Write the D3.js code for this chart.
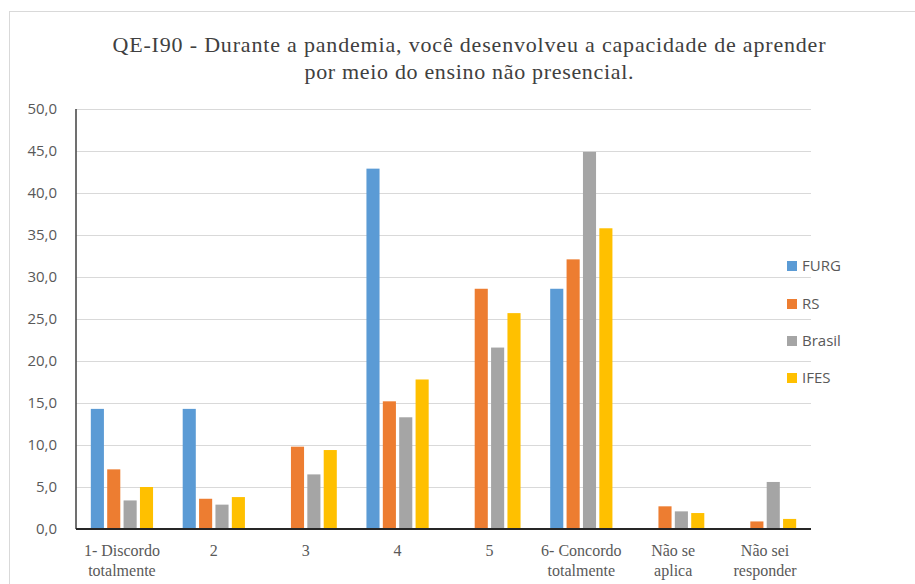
<!DOCTYPE html>
<html><head><meta charset="utf-8">
<script src="https://cdn.jsdelivr.net/npm/d3@7"></script>
<style>body{margin:0;background:#fff}svg{display:block}</style>
</head><body>
<svg id="c" width="915" height="584"></svg>
<script>
const categories = [["1- Discordo","totalmente"],["2"],["3"],["4"],["5"],["6- Concordo","totalmente"],["Não se","aplica"],["Não sei","responder"]];
const seriesNames = ["FURG","RS","Brasil","IFES"];
const furg   = [14.3, 14.3, 0, 42.9, 0, 28.6, 0, 0];
const rs     = [7.1, 3.6, 9.8, 15.2, 28.6, 32.1, 2.7, 0.9];
const brasil = [3.4, 2.9, 6.5, 13.3, 21.6, 44.9, 2.1, 5.6];
const ifes   = [5.0, 3.8, 9.4, 17.8, 25.7, 35.8, 1.9, 1.2];
const yTicks = [0,5,10,15,20,25,30,35,40,45,50];
const titleLines = ["QE-I90 - Durante a pandemia, você desenvolveu a capacidade de aprender","por meio do ensino não presencial."];
const colors = ["#5B9BD5","#ED7D31","#A5A5A5","#FFC000"];

const series = [furg, rs, brasil, ifes];
const svg = d3.select("#c");

// outer chart border
svg.append("rect").attr("x",9.5).attr("y",11.5).attr("width",1000).attr("height",1000)
  .attr("fill","none").attr("stroke","#d9d9d9");

const L=76, R=811, T=109, B=529;
const idx = d3.range(categories.length);
const x0 = d3.scaleBand().domain(idx).range([L,R]).paddingInner(0.287).paddingOuter(0.1435);
const x1 = d3.scaleBand().domain(d3.range(seriesNames.length)).range([0,x0.bandwidth()]).paddingInner(0.2).paddingOuter(0.1);
const y = d3.scaleLinear().domain([0,50]).range([B,T]);

// gridlines
svg.append("g").selectAll("line").data(yTicks.filter(d=>d>0)).join("line")
  .attr("x1",L).attr("x2",R).attr("y1",d=>Math.round(y(d))+0.5).attr("y2",d=>Math.round(y(d))+0.5)
  .attr("stroke","#d9d9d9").attr("stroke-width",1.2);

// y axis labels
const yAxis = d3.axisLeft(y).tickValues(yTicks).tickSize(0).tickPadding(19)
  .tickFormat(d=>d3.format(".1f")(d).replace(".",","));
const ga = svg.append("g").attr("transform",`translate(${L},0)`).call(yAxis);
ga.select(".domain").remove();
ga.selectAll("text").attr("font-family","'Open Sans', sans-serif").attr("font-size",15).attr("fill","#595959");

// bars
const gb = svg.append("g");
series.forEach((vals,si)=>{
  gb.append("g").selectAll("rect").data(vals).join("rect")
    .attr("x",(d,i)=>x0(i)+x1(si)).attr("width",x1.bandwidth())
    .attr("y",d=>y(d)).attr("height",d=>B-y(d))
    .attr("fill",colors[si]);
});

// axes lines
svg.append("line").attr("x1",L).attr("x2",L).attr("y1",T).attr("y2",B).attr("stroke","#404040").attr("stroke-width",1.5);
svg.append("line").attr("x1",L).attr("x2",R).attr("y1",B).attr("y2",B).attr("stroke","#262626").attr("stroke-width",1.8);

// x labels
const xl = svg.append("g");
categories.forEach((lines,i)=>{
  const t = xl.append("text").attr("text-anchor","middle")
    .attr("font-family","'Liberation Serif', serif").attr("font-size",16).attr("fill","#595959");
  lines.forEach((ln,k)=>t.append("tspan").attr("x",x0(i)+x0.bandwidth()/2).attr("y",556+k*20).text(ln));
});

// title
const tt = svg.append("g").attr("font-family","'Liberation Serif', serif").attr("font-size",22).attr("fill","#404040");
const tLens = [713, 329];
titleLines.forEach((ln,k)=>tt.append("text").attr("text-anchor","middle").attr("x",469).attr("y",52+k*27)
  .attr("textLength",tLens[k]).attr("lengthAdjust","spacing").text(ln));

// legend
const lg = svg.append("g");
const ly = [266,304,341,378];
seriesNames.forEach((n,i)=>{
  lg.append("rect").attr("x",787).attr("y",ly[i]-5).attr("width",10).attr("height",10).attr("fill",colors[i]);
  lg.append("text").attr("x",802).attr("y",ly[i]).attr("dy","0.35em")
    .attr("font-family","'Open Sans', sans-serif").attr("font-size",15).attr("fill","#595959").text(n);
});
</script>
</body></html>
